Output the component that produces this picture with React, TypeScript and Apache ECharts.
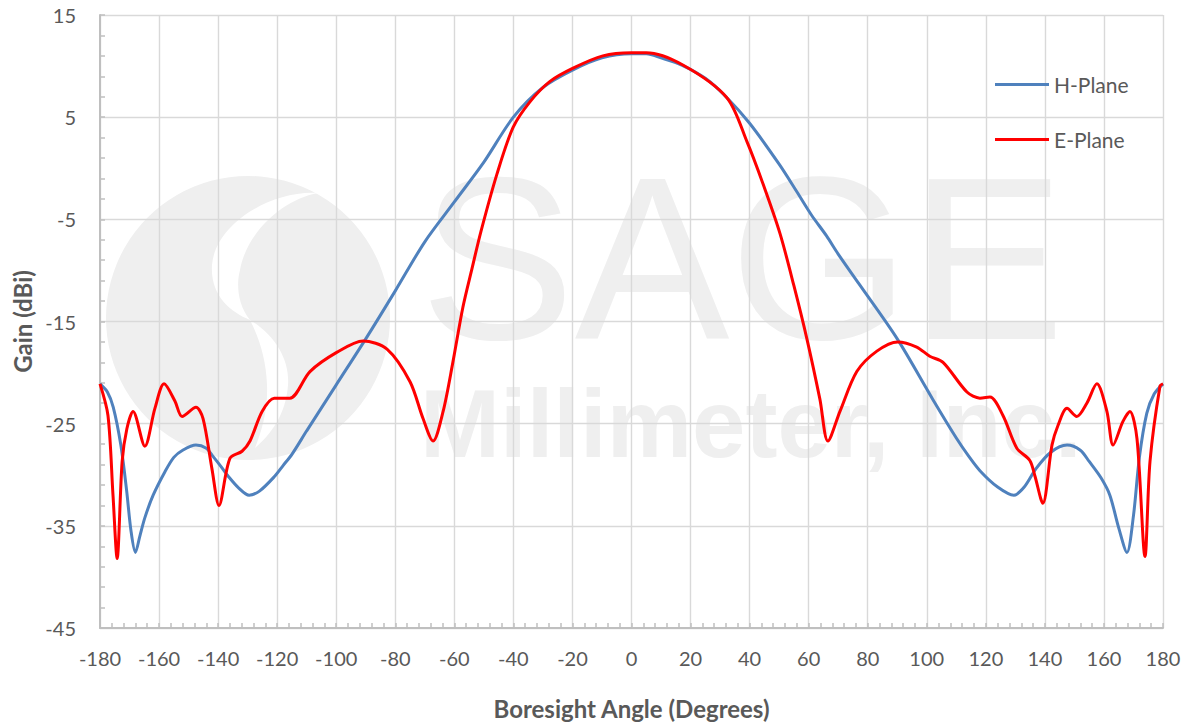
import React, { useEffect, useRef } from "react";
import * as echarts from "echarts";

// Boresight angle (deg), gain (dBi)
const hPlane: [number, number][] = [
  [-180, -21.1], [-177.5, -21.9], [-175.5, -23.4], [-173, -27], [-171, -31.5], [-169.5, -35.5], [-168, -37.6],
  [-166.5, -36], [-164.8, -34.2], [-162, -32], [-158, -29.7], [-155, -28.3], [-152, -27.6], [-147.5, -27.1],
  [-144, -27.4], [-142, -28.1], [-139, -29.2], [-136.7, -30.1], [-133, -31.3], [-129.5, -32], [-126, -31.6],
  [-121, -30.2], [-118, -29.1], [-115, -28.0], [-110, -25.7], [-100, -21.2], [-90, -16.7], [-80, -12.0],
  [-70, -7.2], [-60, -3.3], [-50, 0.6], [-40, 5.0], [-30, 7.9], [-20, 9.6], [-10, 10.8], [0, 11.2], [5, 11.2],
  [10, 10.8], [17, 10.1], [25, 8.8], [32, 7.0], [40, 4.4], [50, 0.4], [56, -2.3], [61, -4.6],
  [66, -6.6], [70, -8.4], [77, -11.3], [90, -16.7], [102, -22.6], [110, -26.4], [114, -28.1], [118, -29.6],
  [124, -31.2], [129.5, -32], [133, -31.2], [137, -29.4], [142, -27.8], [147.5, -27.1], [152, -27.6],
  [155, -28.7], [159, -30.3], [162, -32], [165, -35.2], [167.8, -37.6], [170, -34], [172, -28.3],
  [174.5, -24.0], [177, -22.1], [180, -21.1],
];

const ePlane: [number, number][] = [
  [-180, -21.1], [-177.3, -24.2], [-175.6, -32], [-174.2, -38.2], [-172.5, -28.7], [-170.9, -25.5],
  [-168.8, -23.8], [-164.8, -27.2], [-161.4, -23.5], [-158.3, -21.1], [-154.6, -22.8], [-152.2, -24.3],
  [-147.5, -23.4], [-145.1, -24.5], [-142.1, -29.4], [-139.7, -33], [-136, -28.4], [-131.9, -27.7],
  [-129.2, -26.7], [-125.1, -23.8], [-121, -22.5], [-115.7, -22.5], [-108.9, -19.9], [-99.7, -18.0],
  [-90.9, -16.9], [-82.8, -17.7], [-75, -20.9], [-70.6, -24.5], [-67.2, -26.7], [-63.8, -23.8],
  [-60.5, -19.0], [-57.1, -13.6], [-54, -9.8], [-51, -6.2], [-45.6, -0.6], [-40.1, 4.0],
  [-34.4, 6.5], [-27.6, 8.5], [-19.8, 9.8], [-9.7, 11.0], [0, 11.3], [5, 11.3], [17.4, 10.1],
  [32.3, 6.9], [39.1, 2.6], [44.5, -1.5], [50.3, -6.4], [55, -11.5], [59.4, -16.7],
  [63.8, -22.6], [66.5, -26.7], [70.6, -23.8], [76.3, -19.9], [83.1, -17.9], [90.2, -17.0], [96.6, -17.5],
  [101, -18.4], [105.5, -19.0], [113.6, -21.9], [118, -22.5], [121.4, -22.4], [125.8, -24.2],
  [130.5, -27.4], [134.9, -28.6], [136.6, -30.1], [139.3, -32.8], [142.4, -27.1], [144.4, -25.2],
  [147.5, -23.5], [150.8, -24.3], [154.2, -23.0], [157.6, -21.1], [161, -23.8], [163.1, -27.1],
  [166.4, -24.8], [168.8, -23.8], [171.2, -26.5], [173.9, -38.0], [175.6, -28.7], [179, -21.3],
  [180, -21.1],
];

const seriesNames = ["H-Plane", "E-Plane"];
const xRange = [-180, 180];
const xStep = 20;
const yRange = [-45, 15];
const yStep = 10;

const LOGO_D =
  "M 318 193 C 270 190 215 225 212 265 C 210 295 230 312 250 320 C 238 305 236 285 240 270 C 246 235 280 200 318 193 Z " +
  "M 250 320 C 275 335 290 360 288 385 C 286 415 270 435 255 448 C 262 430 268 410 267 385 C 266 360 260 340 250 320 Z";

let registered = false;

export default function App() {
  const ref = useRef<HTMLDivElement>(null);
  useEffect(() => {
    document.body.style.margin = "0";
    document.body.style.overflow = "hidden";
    if (!registered) {
      echarts.graphic.registerShape("sageS", echarts.graphic.extendPath(LOGO_D, {}));
      registered = true;
    }
    const chart = echarts.init(ref.current!, null, { renderer: "svg" });
    const font = "Lato, 'Noto Sans', sans-serif";
    const textColor = "#595959";
    const wm = "#efefef";
    chart.setOption({
      animation: false,
      backgroundColor: "#ffffff",
      textStyle: { fontFamily: font },
      graphic: [
        { type: "circle", z: -10, silent: true, shape: { cx: 248, cy: 318, r: 142 }, style: { fill: wm } },
        { type: "sageS", z: -9, silent: true, x: 0, y: 0, style: { fill: "#ffffff" } },
        {
          type: "text", z: -9, silent: true, x: 420, y: 258,
          style: {
            text: "SAGE", fill: wm, font: "normal 232px 'Liberation Sans', Arial, sans-serif",
            lineHeight: 170, verticalAlign: "middle", align: "left",
          },
        },
        {
          type: "text", z: -9, silent: true, x: 420, y: 423,
          style: {
            text: "Millimeter, Inc.", fill: wm, font: "bold 96px 'Liberation Sans', Arial, sans-serif",
            lineHeight: 76, verticalAlign: "middle", align: "left",
          },
        },
      ],
      grid: { left: 100, right: 25, top: 15, bottom: 95, containLabel: false },
      legend: {
        orient: "vertical",
        left: 995,
        top: 74,
        padding: 0,
        itemWidth: 54,
        itemHeight: 3,
        itemGap: 34,
        icon: "rect",
        textStyle: { fontSize: 21, color: textColor, fontFamily: font },
        data: seriesNames,
      },
      xAxis: {
        type: "value",
        min: xRange[0],
        max: xRange[1],
        interval: xStep,
        name: "Boresight Angle (Degrees)",
        nameLocation: "middle",
        nameGap: 68,
        nameTextStyle: { fontSize: 24, fontWeight: "bold", color: textColor, fontFamily: font },
        axisLine: { show: true, onZero: false, lineStyle: { color: "#bfbfbf", width: 2 } },
        axisTick: { show: true, inside: true, length: 5, lineStyle: { color: "#bfbfbf", width: 1.5 } },
        minorTick: { show: true, splitNumber: 5, length: 5, lineStyle: { color: "#bfbfbf", width: 1.5 } },
        axisLabel: { fontSize: 20, color: textColor, margin: 20, fontFamily: font },
        splitLine: { show: true, lineStyle: { color: "#d9d9d9", width: 1.4 } },
      },
      yAxis: {
        type: "value",
        min: yRange[0],
        max: yRange[1],
        interval: yStep,
        name: "Gain (dBi)",
        nameLocation: "middle",
        nameGap: 64,
        nameRotate: 90,
        nameTextStyle: { fontSize: 24, fontWeight: "bold", color: textColor, fontFamily: font },
        axisLine: { show: true, onZero: false, lineStyle: { color: "#bfbfbf", width: 2 } },
        axisTick: { show: true, inside: true, length: 5, lineStyle: { color: "#bfbfbf", width: 1.5 } },
        minorTick: { show: true, splitNumber: 5, length: 5, lineStyle: { color: "#bfbfbf", width: 1.5 } },
        axisLabel: { fontSize: 20, color: textColor, margin: 24, fontFamily: font },
        splitLine: { show: true, lineStyle: { color: "#d9d9d9", width: 1.4 } },
      },
      series: [
        {
          name: seriesNames[0],
          type: "line",
          data: hPlane,
          showSymbol: false,
          symbol: "none",
          smooth: 0.3,
          z: 3,
          lineStyle: { color: "#4f81bd", width: 3 },
          itemStyle: { color: "#4f81bd" },
        },
        {
          name: seriesNames[1],
          type: "line",
          data: ePlane,
          showSymbol: false,
          symbol: "none",
          smooth: 0.3,
          z: 4,
          lineStyle: { color: "#ff0000", width: 3 },
          itemStyle: { color: "#ff0000" },
        },
      ],
    });
    return () => chart.dispose();
  }, []);
  return <div ref={ref} style={{ width: 1188, height: 725 }} />;
}
